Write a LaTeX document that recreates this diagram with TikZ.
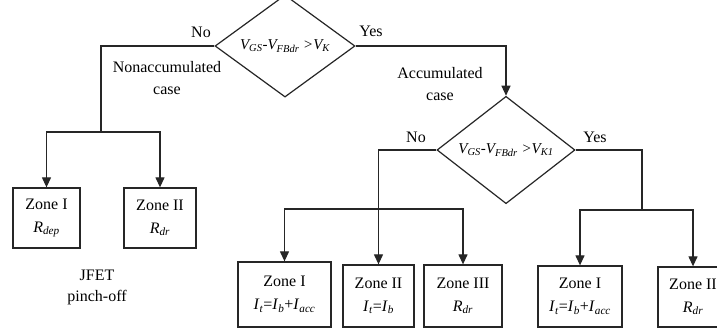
\documentclass[tikz,border=0pt]{standalone}
\usepackage{fontspec}
\setmainfont{Liberation Serif}
\usetikzlibrary{shapes.geometric,arrows.meta}
\begin{document}
\begin{tikzpicture}[x=1pt,y=-1pt,
  line width=1.2pt,
  conn/.style={draw=black!85, line width=1.2pt},
  zone/.style={draw=black!85, line width=1.3pt, inner sep=0pt, align=center, font=\fontsize{16}{23}\selectfont},
  cond/.style={draw=black!85, line width=1.2pt, diamond, inner sep=0pt, font=\fontsize{15}{18}\selectfont\itshape},
  lbl/.style={align=center, inner sep=0pt, font=\fontsize{16}{22}\selectfont},
  arr/.style={conn, -{Triangle[length=10pt,width=9pt]}},
]
\clip (0,0) rectangle (717,329);
\fill[white] (0,0) rectangle (717,329);

% decisions
\node[cond, minimum width=140pt, minimum height=82pt] (d1) at (285,46)
  {V\textsubscript{GS}-V\textsubscript{FBdr} >V\textsubscript{K}};
\node[cond, minimum width=138pt, minimum height=80pt] (d2) at (506,150)
  {V\textsubscript{GS}-V\textsubscript{FBdr} >V\textsubscript{K1}};

% zones
\node[zone, minimum width=67pt, minimum height=60pt] (t1) at (46.5,218)
  {Zone I\\\textit{R}\textsubscript{\textit{dep}}};
\node[zone, minimum width=72pt, minimum height=60pt] (t2) at (160,218)
  {Zone II\\\textit{R}\textsubscript{\textit{dr}}};
\node[zone, minimum width=93pt, minimum height=65pt] (b1) at (284.5,294.5)
  {Zone I\\\textit{I}\textsubscript{\textit{t}}=\textit{I}\textsubscript{\textit{b}}+\textit{I}\textsubscript{\textit{acc}}};
\node[zone, minimum width=71pt, minimum height=62pt] (b2) at (378.5,296)
  {Zone II\\\textit{I}\textsubscript{\textit{t}}=\textit{I}\textsubscript{\textit{b}}};
\node[zone, minimum width=78pt, minimum height=62pt] (b3) at (463,296)
  {Zone III\\\textit{R}\textsubscript{\textit{dr}}};
\node[zone, minimum width=84pt, minimum height=61pt] (b4) at (580,296.5)
  {Zone I\\\textit{I}\textsubscript{\textit{t}}=\textit{I}\textsubscript{\textit{b}}+\textit{I}\textsubscript{\textit{acc}}};
\node[zone, minimum width=70pt, minimum height=60pt] (b5) at (693,297)
  {Zone II\\\textit{R}\textsubscript{\textit{dr}}};

% labels
\node[lbl] (no1) at (201,32) {No};
\node[lbl] (yes1) at (371,31) {Yes};
\node[lbl] (nonacc) at (167,78) {Nonaccumulated\\case};
\node[lbl] (acc) at (440,84) {Accumulated\\case};
\node[lbl] (no2) at (416,137) {No};
\node[lbl] (yes2) at (595,137) {Yes};
\node[lbl, font=\fontsize{16}{21}\selectfont] (jfet) at (97,287) {JFET\\pinch-off};

% junctions
\coordinate (j1) at (101,132);
\coordinate (j2) at (378.5,209);
\coordinate (j3) at (642,210);

% connectors
\draw[conn] (d1.west) -| (j1);
\draw[arr] (j1) -| (t1.north);
\draw[arr] (j1) -| (t2.north);
\draw[arr] (d1.east) -| (d2.north);
\draw[arr] (d2.west) -| (b2.north);
\draw[arr] (j2) -| (b1.north);
\draw[arr] (j2) -| (b3.north);
\draw[conn] (d2.east) -| (j3);
\draw[arr] (j3) -| (b4.north);
\draw[arr] (j3) -| (b5.north);
\end{tikzpicture}
\end{document}
